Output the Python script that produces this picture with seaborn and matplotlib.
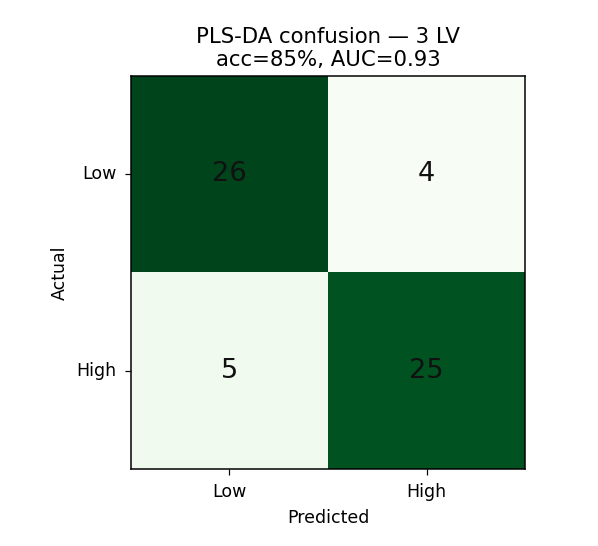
import matplotlib
matplotlib.use("Agg")
import matplotlib.pyplot as plt
import numpy as np
import seaborn as sns

labels = ["Low", "High"]
conf_matrix = np.array([[26, 4],
                        [5, 25]])
n_lv = 3
accuracy = 85
auc = 0.93

dpi = 109
fig = plt.figure(figsize=(598 / dpi, 546 / dpi), dpi=dpi)
ax = fig.add_axes([0.219, 0.141, 0.659, 0.72])

sns.heatmap(
    conf_matrix,
    annot=True,
    fmt="d",
    cmap="Greens",
    vmin=conf_matrix.min(),
    vmax=conf_matrix.max(),
    cbar=False,
    xticklabels=labels,
    yticklabels=labels,
    annot_kws={"fontsize": 18, "color": "#111111"},
    ax=ax,
)

for spine in ax.spines.values():
    spine.set_visible(True)
    spine.set_color("black")
    spine.set_linewidth(1.0)

ax.tick_params(axis="both", length=4, width=0.8, pad=5.5, labelsize=11.5)
ax.set_yticklabels(labels, rotation=0)
ax.set_xticklabels(labels, rotation=0)
ax.set_xlabel("Predicted", fontsize=11.5, labelpad=4.8)
ax.set_ylabel("Actual", fontsize=11.5, labelpad=4.8)
ax.set_title(f"PLS-DA confusion — {n_lv} LV\nacc={accuracy}%, AUC={auc:.2f}", fontsize=14, pad=6.3)

fig.savefig("out.png", dpi=dpi)
plt.close()
